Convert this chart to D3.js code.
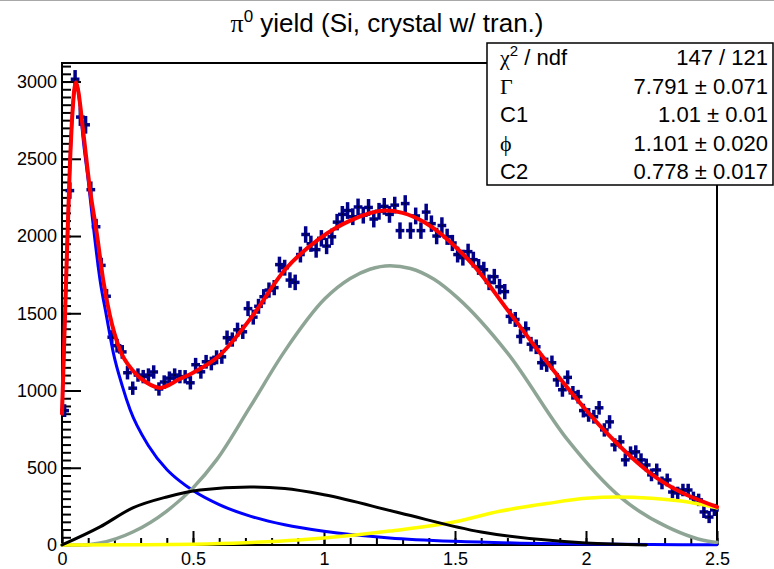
<!DOCTYPE html>
<html>
<head>
<meta charset="utf-8">
<script src="https://cdn.jsdelivr.net/npm/d3@7"></script>
<style>
  html, body { margin: 0; padding: 0; background: #fff; }
  svg { display: block; font-family: "Liberation Sans", Arial, sans-serif; }
</style>
</head>
<body>
<svg id="chart" width="774" height="569"></svg>
<script>
// ---- histogram: pi0 yield per 0.02 bin from 0 to 2.5 ----
const binWidth = 0.02;
const counts = [
  870, 2294, 3015, 2770, 2720, 2300, 2060, 1810, 1610, 1345,
  1290, 1250, 1115, 1015, 1100, 1090, 1100, 1120, 1010, 1055,
  1080, 1100, 1090, 1089, 1050, 1167, 1121, 1186, 1175, 1215,
  1218, 1342, 1330, 1393, 1380, 1530, 1475, 1545, 1607, 1650,
  1666, 1815, 1795, 1715, 1700, 1880, 2010, 1950, 1912, 1985,
  1935, 1995, 2090, 2140, 2165, 2125, 2188, 2135, 2185, 2110,
  2160, 2192, 2140, 2200, 2035, 2210, 2035, 2130, 2035, 2155,
  2080, 2000, 2068, 1995, 1955, 1880, 1860, 1899, 1847, 1800,
  1782, 1700, 1737, 1672, 1640, 1480, 1460, 1350, 1400, 1300,
  1283, 1180, 1167, 1180, 1069, 1005, 1085, 985, 960, 870,
  842, 830, 888, 745, 797, 648, 668, 551, 596, 603,
  551, 518, 454, 486, 402, 421, 343, 337, 356, 356,
  305, 292, 214, 181, 227
];
// uncertainty of each bin
const errors = [
  30, 42, 48, 46, 46, 42, 40, 38, 36, 34,
  33, 33, 32, 32, 32, 32, 32, 32, 32, 32,
  32, 32, 32, 32, 32, 33, 33, 33, 33, 34,
  34, 35, 35, 35, 35, 37, 37, 37, 38, 38,
  38, 40, 40, 39, 39, 40, 42, 41, 41, 42,
  41, 42, 42, 43, 43, 43, 43, 43, 43, 43,
  43, 43, 43, 43, 42, 43, 42, 43, 42, 43,
  42, 42, 42, 41, 41, 40, 40, 40, 40, 40,
  40, 39, 39, 39, 38, 37, 37, 36, 36, 36,
  36, 35, 35, 35, 34, 34, 34, 33, 33, 33,
  33, 33, 33, 32, 32, 31, 31, 31, 31, 31,
  31, 30, 30, 30, 30, 30, 29, 29, 29, 29,
  29, 29, 28, 28, 28
];

// ---- fit curves, sampled as [x, value] ----
const fitTotal = [
  [0, 850], [0.01, 1400], [0.02, 1950], [0.03, 2450], [0.04, 2800], [0.053, 2995],
  [0.061, 2949], [0.08, 2690], [0.107, 2300], [0.134, 2003], [0.157, 1717],
  [0.183, 1484], [0.221, 1264], [0.271, 1128], [0.324, 1050], [0.374, 1017],
  [0.45, 1075], [0.5, 1115], [0.6, 1225], [0.725, 1478], [0.85, 1780],
  [0.98, 1980], [1.1, 2100], [1.233, 2165], [1.3, 2150], [1.385, 2087],
  [1.52, 1900], [1.576, 1800], [1.7, 1523], [1.874, 1134], [2.05, 778],
  [2.27, 434], [2.5, 246]
];
const fitBlue = [
  [0, 850], [0.01, 1400], [0.02, 1950], [0.03, 2450], [0.04, 2800], [0.053, 2995],
  [0.069, 2840], [0.08, 2640], [0.1, 2360], [0.118, 2087], [0.145, 1717],
  [0.17, 1480], [0.196, 1244], [0.23, 1030], [0.26, 875], [0.33, 643],
  [0.4, 489], [0.45, 413], [0.5, 352], [0.6, 261], [0.718, 187], [0.85, 131],
  [1.0, 89], [1.25, 46], [1.5, 24], [1.75, 12], [2.0, 6], [2.25, 3], [2.5, 2]
];
const fitBlack = [
  [0, 0], [0.145, 117], [0.27, 240], [0.4, 311], [0.527, 356], [0.718, 376],
  [0.85, 365], [1.0, 325], [1.29, 207], [1.6, 84], [2.0, 13], [2.23, 0]
];
const fitGray = [
  [0, 0], [0.08, 0], [0.145, 13], [0.27, 84], [0.4, 220], [0.5, 370],
  [0.59, 551], [0.718, 894], [0.85, 1255], [1.004, 1595], [1.1, 1725],
  [1.175, 1785], [1.252, 1808], [1.33, 1790], [1.42, 1720], [1.51, 1600],
  [1.7, 1244], [1.93, 680], [2.13, 311], [2.31, 117], [2.485, 20], [2.5, 18]
];
const fitYellow = [
  [0, 0], [0.3, 1], [0.5, 5], [0.7, 15], [0.9, 32], [1.0, 45], [1.25, 90],
  [1.5, 150], [1.67, 218], [1.85, 268], [2.0, 302], [2.12, 311], [2.25, 302],
  [2.4, 275], [2.5, 240]
];

// ---- axis ticks ----
const xMajorTicks = [0, 0.5, 1, 1.5, 2, 2.5];
const xMinorTicks = d3.range(0, 2.5001, 0.1);
const yMajorTicks = [0, 500, 1000, 1500, 2000, 2500, 3000];
const yMinorTicks = d3.range(0, 3101, 50);

// ---- fit statistics ----
const statNames = ["chi2", "Gamma", "C1", "phi", "C2"];
const statValues = ["147 / 121", "7.791 \u00b1 0.071", "1.01 \u00b1 0.01", "1.101 \u00b1 0.020", "0.778 \u00b1 0.017"];

// ---------------------------------------------------------------
const svg = d3.select("#chart");
const W = 774, H = 569;
const frame = { left: 62, right: 717, top: 63, bottom: 545 };

svg.append("rect").attr("width", W).attr("height", H).attr("fill", "#fff");
svg.append("line").attr("x1", 0).attr("x2", W).attr("y1", 0.5).attr("y2", 0.5)
  .attr("stroke", "#a8a8a8").attr("stroke-width", 1);

const x = d3.scaleLinear().domain([0, 2.5]).range([frame.left, frame.right]);
const y = d3.scaleLinear().domain([0, 3120]).range([frame.bottom, frame.top]);

// title
const title = svg.append("text").attr("x", W / 2).attr("y", 32)
  .attr("text-anchor", "middle").attr("font-size", 26).attr("fill", "#000");
title.append("tspan").attr("font-family", "'Liberation Serif', 'Times New Roman', serif").text("\u03c0");
title.append("tspan").attr("font-size", 17).attr("dy", -10).text("0");
title.append("tspan").attr("dy", 10).text(" yield (Si, crystal w/ tran.)");

// frame
svg.append("rect")
  .attr("x", frame.left).attr("y", frame.top)
  .attr("width", frame.right - frame.left).attr("height", frame.bottom - frame.top)
  .attr("fill", "none").attr("stroke", "#000").attr("stroke-width", 2);

// axes with inward ticks
function styleAxis(g) {
  g.select(".domain").remove();
  g.selectAll(".tick line").attr("stroke", "#000").attr("stroke-width", 2);
  g.selectAll("text").attr("font-size", 18).attr("fill", "#000")
    .attr("font-family", "'Liberation Sans', Arial, sans-serif");
}
svg.append("g").attr("transform", `translate(0,${frame.bottom})`)
  .call(d3.axisBottom(x).tickValues(xMinorTicks).tickSize(-7).tickFormat(""))
  .call(styleAxis);
svg.append("g").attr("transform", `translate(0,${frame.bottom})`)
  .call(d3.axisBottom(x).tickValues(xMajorTicks).tickSize(-14).tickPadding(7)
    .tickFormat(d3.format("~g")))
  .call(styleAxis);
svg.append("g").attr("transform", `translate(${frame.left},0)`)
  .call(d3.axisLeft(y).tickValues(yMinorTicks).tickSize(-9).tickFormat(""))
  .call(styleAxis);
svg.append("g").attr("transform", `translate(${frame.left},0)`)
  .call(d3.axisLeft(y).tickValues(yMajorTicks).tickSize(-19).tickPadding(5)
    .tickFormat(d3.format("d")))
  .call(styleAxis);

// plotting area clip
svg.append("clipPath").attr("id", "plotClip").append("rect")
  .attr("x", frame.left - 2).attr("y", frame.top)
  .attr("width", frame.right - frame.left + 4).attr("height", frame.bottom - frame.top + 3);
const plot = svg.append("g").attr("clip-path", "url(#plotClip)");

// histogram points with error bars
const bins = counts.map((c, i) => ({
  lo: i * binWidth, hi: (i + 1) * binWidth, mid: (i + 0.5) * binWidth, c, e: errors[i]
}));
const pts = plot.append("g").attr("stroke", "#000088").attr("stroke-width", 3.5)
  .attr("stroke-linecap", "square");
pts.selectAll("line.v").data(bins).join("line").attr("class", "v")
  .attr("x1", d => x(d.mid)).attr("x2", d => x(d.mid))
  .attr("y1", d => y(d.c - d.e)).attr("y2", d => y(d.c + d.e));
pts.selectAll("line.h").data(bins).join("line").attr("class", "h")
  .attr("x1", d => x(d.lo)).attr("x2", d => x(d.hi))
  .attr("y1", d => y(d.c)).attr("y2", d => y(d.c));
plot.append("g").selectAll("rect").data(bins).join("rect")
  .attr("x", d => x(d.mid) - 1).attr("y", d => y(d.c) - 1)
  .attr("width", 2).attr("height", 2).attr("fill", "#000020");

// fit components and total
const line = d3.line().x(d => x(d[0])).y(d => y(d[1])).curve(d3.curveMonotoneX);
const curves = [
  { data: fitBlue, color: "#0000ff", w: 3 },
  { data: fitGray, color: "#8ea595", w: 3.5 },
  { data: fitYellow, color: "#ffff00", w: 3.5 },
  { data: fitBlack, color: "#000000", w: 3 },
  { data: fitTotal, color: "#ff0000", w: 4 }
];
plot.selectAll("path.fit").data(curves).join("path").attr("class", "fit")
  .attr("d", d => line(d.data)).attr("fill", "none")
  .attr("stroke", d => d.color).attr("stroke-width", d => d.w)
  .attr("stroke-linejoin", "round").attr("stroke-linecap", "round");

// statistics box
const box = { x: 487, y: 43, w: 286, h: 142 };
svg.append("rect").attr("x", box.x).attr("y", box.y).attr("width", box.w).attr("height", box.h)
  .attr("fill", "#fff").attr("stroke", "#000").attr("stroke-width", 1.5);
const serif = "'Liberation Serif', 'Times New Roman', serif";
const rowY = i => 65 + i * 28.5;
const lab = svg.append("g").attr("font-size", 22).attr("fill", "#000");
statNames.forEach((name, i) => {
  const t = lab.append("text").attr("x", 500).attr("y", rowY(i));
  if (name === "chi2") {
    t.append("tspan").attr("font-family", serif).text("\u03c7");
    t.append("tspan").attr("font-size", 15).attr("dy", -9).text("2");
    t.append("tspan").attr("dy", 9).text(" / ndf");
  } else if (name === "Gamma") {
    t.append("tspan").attr("font-family", serif).text("\u0393");
  } else if (name === "phi") {
    t.append("tspan").attr("font-family", serif).text("\u03d5");
  } else {
    t.text(name);
  }
  lab.append("text").attr("x", 768).attr("y", rowY(i)).attr("text-anchor", "end").text(statValues[i]);
});
</script>
</body>
</html>
